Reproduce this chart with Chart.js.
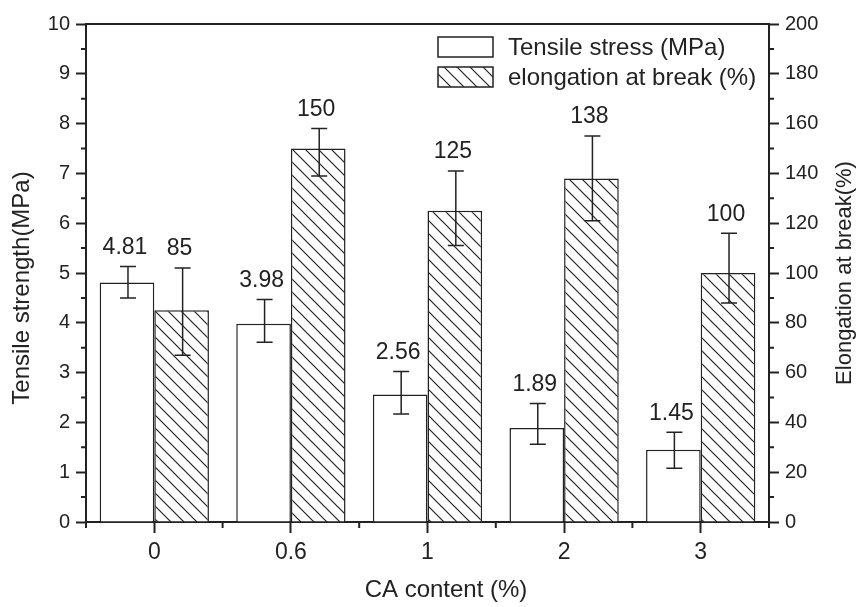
<!DOCTYPE html>
<html>
<head>
<meta charset="utf-8">
<script src="https://cdn.jsdelivr.net/npm/chart.js@4.4.1/dist/chart.umd.min.js"></script>
<style>
  body { margin: 0; background: #fff; }
  #wrap { width: 861px; height: 607px; }
</style>
</head>
<body>
<div id="wrap"><canvas id="chart" width="861" height="607"></canvas></div>
<script>
// values
const categories = ["0", "0.6", "1", "2", "3"];
const tensileStress = [4.81, 3.98, 2.56, 1.89, 1.45];
const tensileErrUp = [0.32, 0.49, 0.46, 0.49, 0.35];
const tensileErrDown = [0.31, 0.37, 0.39, 0.33, 0.37];
const elongation = [85, 150, 125, 138, 100];
const elongErrUp = [17, 8, 16, 17, 16];
const elongErrDown = [18, 11, 14, 17, 12];
const seriesNames = ["Tensile stress (MPa)", "elongation at break (%)"];
const leftRange = [0, 10, 1];     // min, max, step
const rightRange = [0, 200, 20];

const ink = "#222";
const fam = '"Liberation Sans", Arial, Helvetica, sans-serif';
Chart.defaults.font.family = fam;
Chart.defaults.color = ink;

function makeHatch() {
  const s = 13;
  const c = document.createElement("canvas");
  c.width = s; c.height = s;
  const g = c.getContext("2d");
  g.fillStyle = "#fff";
  g.fillRect(0, 0, s, s);
  g.strokeStyle = ink;
  g.lineWidth = 1.2;
  g.beginPath();
  g.moveTo(-1, -1); g.lineTo(s + 1, s + 1);
  g.moveTo(-1, s - 1); g.lineTo(1, s + 1);
  g.moveTo(s - 1, -1); g.lineTo(s + 1, 1);
  g.stroke();
  return g.createPattern(c, "repeat");
}

const ctx = document.getElementById("chart").getContext("2d");
const hatch = makeHatch();

const decorations = {
  id: "decorations",
  afterDatasetsDraw(chart) {
    const { ctx, chartArea: a, scales } = chart;
    ctx.save();

    // frame top line
    ctx.strokeStyle = ink;
    ctx.lineWidth = 2;
    ctx.beginPath();
    ctx.moveTo(a.left - 1, a.top);
    ctx.lineTo(a.right + 1, a.top);
    ctx.stroke();

    // minor ticks
    ctx.beginPath();
    for (let v = leftRange[0] + leftRange[2] / 2; v < leftRange[1]; v += leftRange[2]) {
      const py = scales.y.getPixelForValue(v);
      ctx.moveTo(a.left, py); ctx.lineTo(a.left - 5, py);
    }
    for (let v = rightRange[0] + rightRange[2] / 2; v < rightRange[1]; v += rightRange[2]) {
      const py = scales.y1.getPixelForValue(v);
      ctx.moveTo(a.right, py); ctx.lineTo(a.right + 5, py);
    }
    const xs = categories.map((c, i) => scales.x.getPixelForValue(i));
    const bounds = [a.left, a.right];
    for (let i = 0; i < xs.length - 1; i++) bounds.push((xs[i] + xs[i + 1]) / 2);
    bounds.forEach(bx => { ctx.moveTo(bx, a.bottom); ctx.lineTo(bx, a.bottom + 6); });
    ctx.stroke();

    // error bars and value labels
    const sets = [
      { meta: chart.getDatasetMeta(0), scale: scales.y, vals: tensileStress, up: tensileErrUp, dn: tensileErrDown, fmt: v => v.toFixed(2) },
      { meta: chart.getDatasetMeta(1), scale: scales.y1, vals: elongation, up: elongErrUp, dn: elongErrDown, fmt: v => String(v) }
    ];
    ctx.lineWidth = 1.5;
    ctx.font = "23px " + fam;
    ctx.fillStyle = ink;
    ctx.textAlign = "center";
    ctx.textBaseline = "middle";
    sets.forEach(s => {
      s.meta.data.forEach((bar, i) => {
        const x = bar.x + 1;
        const yTop = s.scale.getPixelForValue(s.vals[i] + s.up[i]);
        const yBot = s.scale.getPixelForValue(s.vals[i] - s.dn[i]);
        ctx.beginPath();
        ctx.moveTo(x, yTop); ctx.lineTo(x, yBot);
        ctx.moveTo(x - 8, yTop); ctx.lineTo(x + 8, yTop);
        ctx.moveTo(x - 8, yBot); ctx.lineTo(x + 8, yBot);
        ctx.stroke();
        ctx.fillText(s.fmt(s.vals[i]), bar.x - 2, yTop - 19);
      });
    });

    // legend
    const lx = a.left + 352, ly = a.top + 13;
    ctx.textAlign = "left";
    ctx.font = "24px " + fam;
    chart.data.datasets.forEach((ds, i) => {
      const by = ly + i * 30;
      ctx.fillStyle = ds.backgroundColor;
      ctx.fillRect(lx, by, 55, 20);
      ctx.strokeStyle = ink;
      ctx.lineWidth = 1.5;
      ctx.strokeRect(lx, by, 55, 20);
      ctx.fillStyle = ink;
      ctx.fillText(ds.label, lx + 70, by + 11);
    });

    // axis titles (both y titles read bottom-to-top)
    ctx.textAlign = "center";
    ctx.font = "24px " + fam;
    ctx.fillText("CA content (%)", a.left + 360, chart.height - 17);
    ctx.save();
    ctx.translate(22, (a.top + a.bottom) / 2 + 15);
    ctx.rotate(-Math.PI / 2);
    ctx.fillText("Tensile strength(MPa)", 0, 0);
    ctx.restore();
    ctx.save();
    ctx.font = "22px " + fam;
    ctx.translate(chart.width - 16, (a.top + a.bottom) / 2);
    ctx.rotate(-Math.PI / 2);
    ctx.fillText("Elongation at break(%)", 0, 0);
    ctx.restore();

    ctx.restore();
  }
};

new Chart(ctx, {
  type: "bar",
  data: {
    labels: categories,
    datasets: [
      {
        label: seriesNames[0],
        data: tensileStress,
        yAxisID: "y",
        backgroundColor: "#ffffff",
        borderColor: ink,
        borderWidth: 1.5,
        borderSkipped: "bottom"
      },
      {
        label: seriesNames[1],
        data: elongation,
        yAxisID: "y1",
        backgroundColor: hatch,
        borderColor: ink,
        borderWidth: 1.5,
        borderSkipped: "bottom"
      }
    ]
  },
  options: {
    responsive: false,
    animation: false,
    categoryPercentage: 0.8,
    barPercentage: 1.0,
    layout: { padding: { top: 24, left: 0, right: 0, bottom: 0 } },
    plugins: {
      legend: { display: false },
      tooltip: { enabled: false }
    },
    scales: {
      x: {
        grid: { offset: false, drawOnChartArea: false, tickLength: 11, tickColor: ink, tickWidth: 2 },
        border: { display: true, color: ink, width: 2 },
        ticks: { font: { size: 23 }, color: ink, padding: 6 },
        title: { display: false },
        afterFit(scale) { scale.height = 85; }
      },
      y: {
        position: "left",
        min: leftRange[0],
        max: leftRange[1],
        ticks: { stepSize: leftRange[2], font: { size: 20 }, color: ink, padding: 6 },
        grid: { drawOnChartArea: false, tickLength: 10, tickColor: ink, tickWidth: 2 },
        border: { display: true, color: ink, width: 2 },
        afterFit(scale) { scale.width = 86; }
      },
      y1: {
        position: "right",
        min: rightRange[0],
        max: rightRange[1],
        ticks: { stepSize: rightRange[2], font: { size: 20 }, color: ink, padding: 6 },
        grid: { drawOnChartArea: false, tickLength: 10, tickColor: ink, tickWidth: 2 },
        border: { display: true, color: ink, width: 2 },
        afterFit(scale) { scale.width = 92; }
      }
    }
  },
  plugins: [decorations]
});
</script>
</body>
</html>
